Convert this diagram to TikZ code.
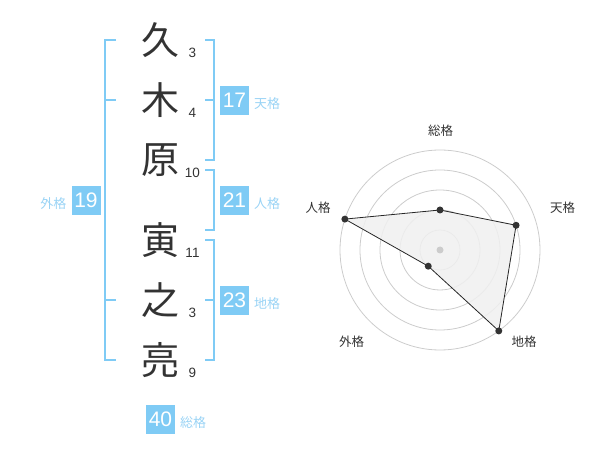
\documentclass[tikz,border=0pt]{standalone}
\usepackage{fontspec}
\setmainfont{Liberation Sans}
\newfontfamily\cjk{Noto Sans CJK JP}
\definecolor{bl}{HTML}{7FCBF5}
\definecolor{lbl}{HTML}{99D3F5}
\definecolor{dk}{HTML}{333333}
\definecolor{ring}{HTML}{CCCCCC}
\definecolor{fillg}{HTML}{F0F0F0}
\tikzset{
  kanji/.style={font=\cjk\fontsize{38}{38}\selectfont, text=dk, inner sep=0pt},
  strokes/.style={font=\fontsize{13.5}{13.5}\selectfont, text=dk, inner sep=0pt},
  br/.style={draw=bl, line width=2pt},
  numbox/.style={fill=bl, text=white, minimum size=29pt, inner sep=0pt, font=\fontsize{21}{21}\selectfont},
  kaku/.style={font=\cjk\fontsize{13}{13}\selectfont, text=lbl, inner sep=0pt},
  rlabel/.style={font=\cjk\fontsize{12.5}{12.5}\selectfont, text=dk, inner sep=0pt},
  ringc/.style={draw=ring, line width=0.8pt},
  dot/.style={circle, fill=dk, minimum size=7pt, inner sep=0pt},
}
\begin{document}
\begin{tikzpicture}[x=1pt,y=-1pt]
\useasboundingbox (0,0) rectangle (600,470);
% kanji
\node[kanji] (k1) at (160,40) {久};
\node[kanji] (k2) at (160,100) {木};
\node[kanji] (k3) at (160,160) {原};
\node[kanji] (k4) at (160,240) {寅};
\node[kanji] (k5) at (160,300) {之};
\node[kanji] (k6) at (160,360) {亮};
% strokes
\node[strokes] (s1) at (192.5,53) {3};
\node[strokes] (s2) at (192.5,113) {4};
\node[strokes] (s3) at (192.5,173) {10};
\node[strokes] (s4) at (192.5,253) {11};
\node[strokes] (s5) at (192.5,313) {3};
\node[strokes] (s6) at (192.5,373) {9};
% brackets
\draw[br] (116,40) -- (105,40) -- (105,360) -- (116,360);
\draw[br] (105,100) -- (116,100);
\draw[br] (105,300) -- (116,300);
\draw[br] (205,40) -- (214,40) -- (214,160) -- (205,160);
\draw[br] (205,100) -- (214,100);
\draw[br] (205,170) -- (214,170) -- (214,230) -- (205,230);
\draw[br] (205,240) -- (214,240) -- (214,360) -- (205,360);
\draw[br] (205,300) -- (214,300);
% boxes
\node[numbox] (ten) at (234.5,100.5) {17};
\node[numbox] (jin) at (234.5,200.5) {21};
\node[numbox] (chi) at (234.5,300.5) {23};
\node[numbox] (gai) at (86,200.5) {19};
\node[numbox] (sou) at (160.5,419) {40};
\node[kaku, anchor=west] (tenL) at (254,103.5) {天格};
\node[kaku, anchor=west] (jinL) at (254,203.5) {人格};
\node[kaku, anchor=west] (chiL) at (254,303.5) {地格};
\node[kaku, anchor=west] (souL) at (180,422.5) {総格};
\node[kaku] (gaiL) at (53.3,203.5) {外格};
% radar
\begin{scope}[xshift=440pt, yshift=-250pt, x=1pt, y=1pt]
\foreach \r in {20,40,60,80,100} \draw[ringc] (0,0) circle (\r);
\coordinate (pS) at (90:40);
\coordinate (pT) at (18:80);
\coordinate (pC) at (-54:100);
\coordinate (pG) at (-126:20);
\coordinate (pJ) at (162:100);
\filldraw[fill=fillg, fill opacity=0.85, draw=black!85, line width=0.8pt] (pS) -- (pT) -- (pC) -- (pG) -- (pJ) -- cycle;
\node[circle, fill=ring, minimum size=7pt, inner sep=0pt] (ctr) at (0,0) {};
\foreach \p in {pS,pT,pC,pG,pJ} \node[dot] at (\p) {};
\node[rlabel] (lS) at (0.7,119.3) {総格};
\node[rlabel] (lT) at (122.7,42) {天格};
\node[rlabel] (lC) at (84,-91.7) {地格};
\node[rlabel] (lG) at (-88.3,-91.7) {外格};
\node[rlabel] (lJ) at (-122,42) {人格};
\end{scope}
\end{tikzpicture}
\end{document}
